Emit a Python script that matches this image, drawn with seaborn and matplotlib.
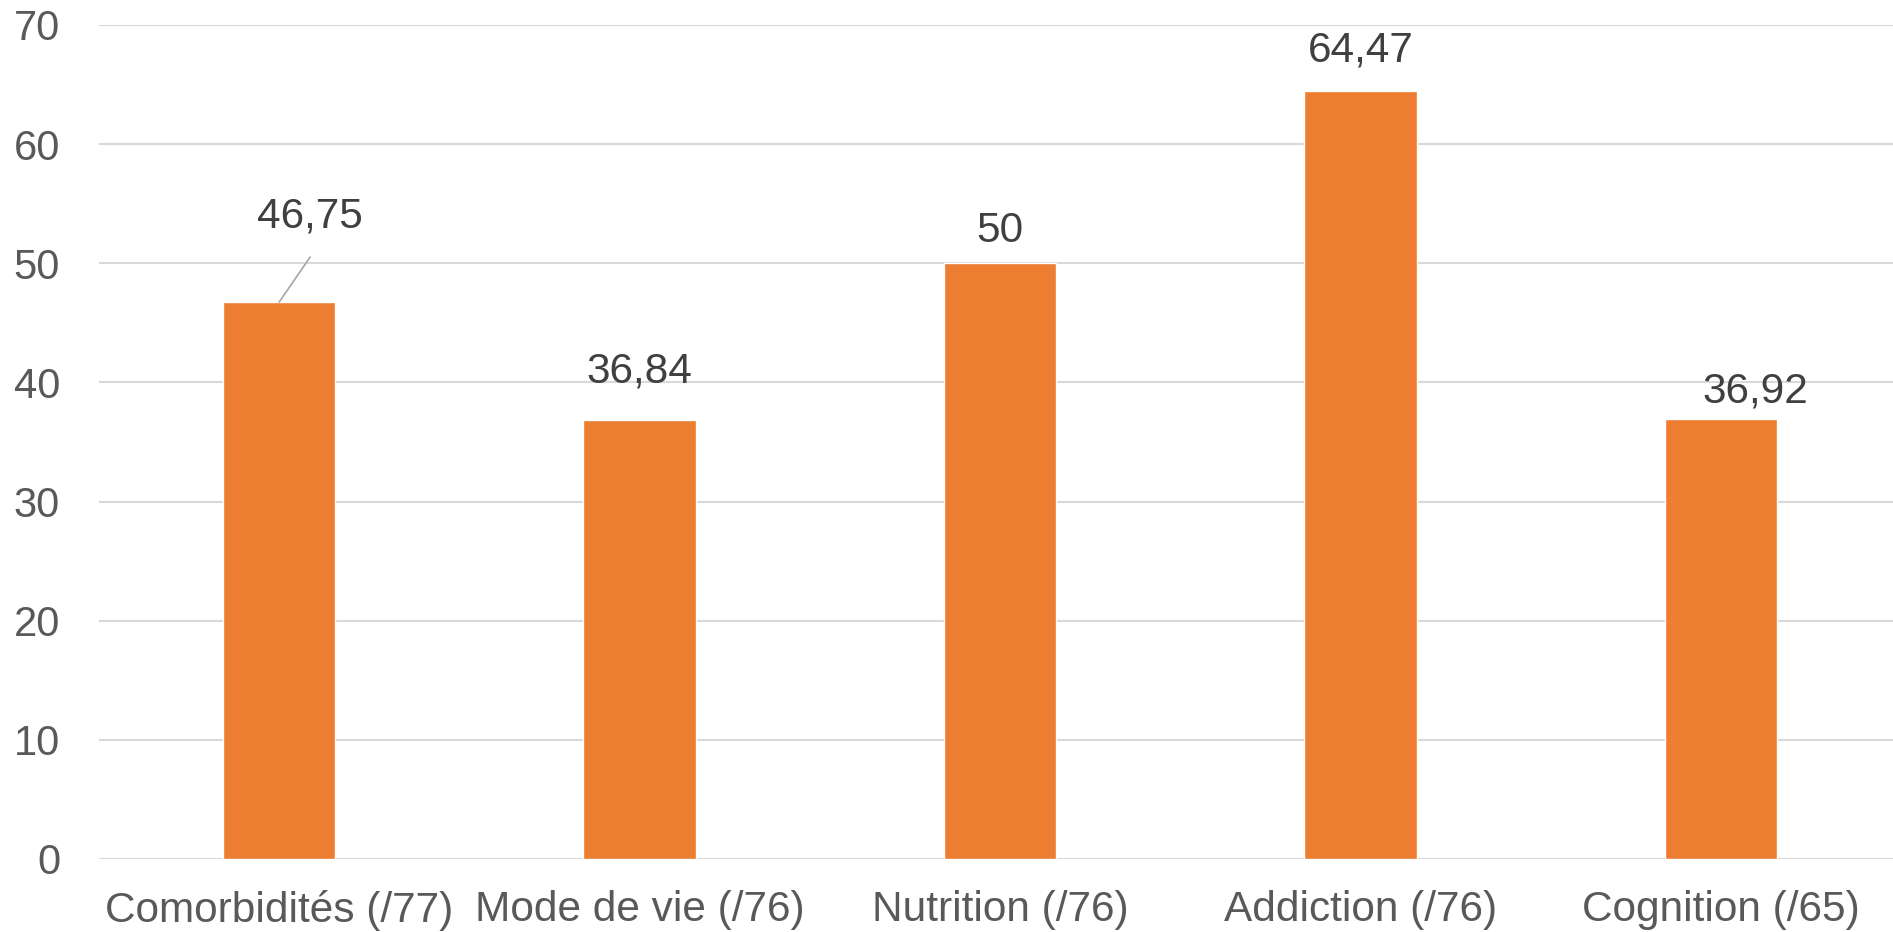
# Bar chart: scores per domain (Excel-like style)

import numpy as np
import pandas as pd
import matplotlib
matplotlib.use("Agg")
import matplotlib.pyplot as plt
import seaborn as sns

# ------------------------------
# Data
# ------------------------------
categories = ["Comorbidités (/77)", "Mode de vie (/76)", "Nutrition (/76)",
              "Addiction (/76)", "Cognition (/65)"]
values = [46.75, 36.84, 50, 64.47, 36.92]
y_ticks = [0, 10, 20, 30, 40, 50, 60, 70]

# label offsets from bar top (pixels), as placed in the original chart
label_dx = [31, 0, 0, 0, 35]
label_dy = [75, 38, 21, 29, 17]

df = pd.DataFrame({"categorie": categories, "valeur": values})

# ------------------------------
# Style
# ------------------------------
sns.set_theme(style="white")
plt.rcParams["font.family"] = ["Liberation Sans", "DejaVu Sans"]

bar_color = "#ED7D31"
grid_color = "#D9D9D9"
tick_color = "#595959"
label_color = "#404040"

fig = plt.figure(figsize=(18.93, 9.32), dpi=100)
ax = fig.add_axes([99 / 1893, 73 / 932, 1802 / 1893, 834 / 932])

sns.barplot(data=df, x="categorie", y="valeur", color=bar_color,
            saturation=1, width=0.312, ax=ax, zorder=3)

ax.set_ylim(0, 70)
ax.set_xlim(-0.5, len(categories) - 0.5)
ax.set_yticks(y_ticks)
ax.yaxis.grid(True, color=grid_color, linewidth=1.5, zorder=0)
ax.set_axisbelow(True)
for side in ["top", "right", "left", "bottom"]:
    ax.spines[side].set_visible(False)

ax.tick_params(axis="y", length=0, pad=28, labelsize=30, labelcolor=tick_color)
ax.tick_params(axis="x", length=0, pad=22.5, labelsize=30.5, labelcolor=tick_color)
ax.set_xlabel("")
ax.set_ylabel("")

# Data labels
for i, v in enumerate(values):
    txt = ("%g" % v).replace(".", ",")
    ax.annotate(txt, xy=(i, v), xytext=(label_dx[i], label_dy[i]),
                textcoords="offset pixels", ha="center", va="baseline",
                fontsize=30.5, color=label_color)

# leader line for the moved first label
ax.annotate("", xy=(0, values[0]), xytext=(31, 45), textcoords="offset pixels",
            arrowprops=dict(arrowstyle="-", color="#A6A6A6", lw=1.2,
                            shrinkA=0, shrinkB=0))

plt.savefig("out.png", dpi=100)
